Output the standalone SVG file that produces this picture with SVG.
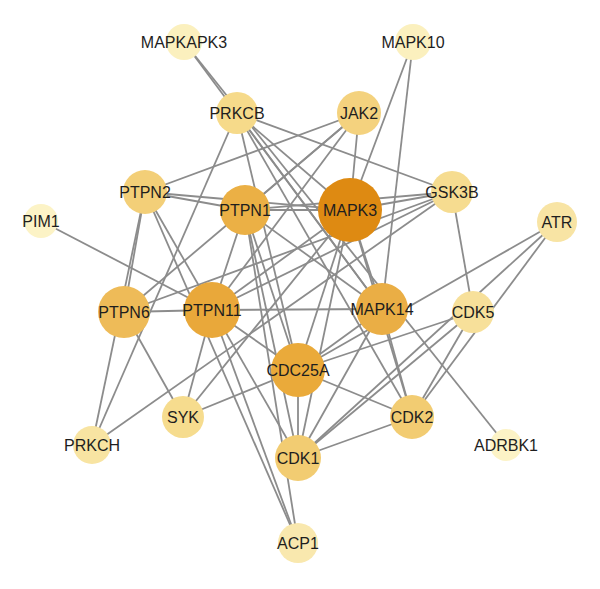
<svg xmlns="http://www.w3.org/2000/svg" width="600" height="589" viewBox="0 0 600 589">
<style>
.e{stroke:#8c8c8c;stroke-width:1.8;fill:none}
.n text{font-family:"Liberation Sans",Arial,sans-serif;font-size:16px;fill:#1e1e1e;text-anchor:middle}
</style>
<rect width="600" height="589" fill="#ffffff"/>
<g id="edges" class="e">
<line x1="184" y1="42" x2="382" y2="309"/>
<line x1="184" y1="42" x2="506" y2="445"/>
<line x1="413" y1="42" x2="350" y2="210"/>
<line x1="413" y1="42" x2="382" y2="309"/>
<line x1="237" y1="113" x2="452" y2="192"/>
<line x1="237" y1="113" x2="350" y2="210"/>
<line x1="237" y1="113" x2="412" y2="417"/>
<line x1="237" y1="113" x2="92" y2="445"/>
<line x1="237" y1="113" x2="298" y2="370"/>
<line x1="237" y1="113" x2="382" y2="309"/>
<line x1="359" y1="113" x2="350" y2="210"/>
<line x1="359" y1="113" x2="145" y2="192"/>
<line x1="359" y1="113" x2="245" y2="210"/>
<line x1="359" y1="113" x2="212" y2="310"/>
<line x1="359" y1="113" x2="124" y2="312"/>
<line x1="145" y1="192" x2="245" y2="210"/>
<line x1="145" y1="192" x2="124" y2="312"/>
<line x1="145" y1="192" x2="298" y2="458"/>
<line x1="145" y1="192" x2="298" y2="543"/>
<line x1="145" y1="192" x2="92" y2="445"/>
<line x1="145" y1="192" x2="350" y2="210"/>
<line x1="245" y1="210" x2="350" y2="210"/>
<line x1="245" y1="210" x2="452" y2="192"/>
<line x1="245" y1="210" x2="382" y2="309"/>
<line x1="245" y1="210" x2="298" y2="370"/>
<line x1="245" y1="210" x2="298" y2="458"/>
<line x1="245" y1="210" x2="298" y2="543"/>
<line x1="245" y1="210" x2="212" y2="310"/>
<line x1="350" y1="210" x2="452" y2="192"/>
<line x1="350" y1="210" x2="382" y2="309"/>
<line x1="350" y1="210" x2="212" y2="310"/>
<line x1="350" y1="210" x2="298" y2="370"/>
<line x1="350" y1="210" x2="298" y2="458"/>
<line x1="350" y1="210" x2="183" y2="417"/>
<line x1="350" y1="210" x2="412" y2="417"/>
<line x1="452" y1="192" x2="473" y2="312"/>
<line x1="452" y1="192" x2="212" y2="310"/>
<line x1="452" y1="192" x2="124" y2="312"/>
<line x1="452" y1="192" x2="92" y2="445"/>
<line x1="41" y1="221" x2="212" y2="310"/>
<line x1="557" y1="222" x2="298" y2="370"/>
<line x1="557" y1="222" x2="412" y2="417"/>
<line x1="557" y1="222" x2="298" y2="458"/>
<line x1="473" y1="312" x2="298" y2="370"/>
<line x1="473" y1="312" x2="298" y2="458"/>
<line x1="473" y1="312" x2="412" y2="417"/>
<line x1="382" y1="309" x2="298" y2="370"/>
<line x1="382" y1="309" x2="412" y2="417"/>
<line x1="382" y1="309" x2="212" y2="310"/>
<line x1="382" y1="309" x2="298" y2="458"/>
<line x1="298" y1="370" x2="412" y2="417"/>
<line x1="298" y1="370" x2="298" y2="458"/>
<line x1="298" y1="458" x2="412" y2="417"/>
<line x1="212" y1="310" x2="124" y2="312"/>
<line x1="212" y1="310" x2="298" y2="370"/>
<line x1="212" y1="310" x2="298" y2="543"/>
<line x1="212" y1="310" x2="183" y2="417"/>
<line x1="124" y1="312" x2="183" y2="417"/>
<line x1="298" y1="370" x2="183" y2="417"/>
</g>
<g id="MAPKAPK3" class="n"><circle cx="184" cy="42" r="18" fill="#fbf0be"/><text x="184" y="48">MAPKAPK3</text></g>
<g id="MAPK10" class="n"><circle cx="413" cy="42" r="18" fill="#fbf0be"/><text x="413" y="48">MAPK10</text></g>
<g id="PRKCB" class="n"><circle cx="237" cy="113" r="21" fill="#f6da8a"/><text x="237" y="119">PRKCB</text></g>
<g id="JAK2" class="n"><circle cx="359" cy="113" r="22" fill="#f4d27e"/><text x="359" y="119">JAK2</text></g>
<g id="PTPN2" class="n"><circle cx="145" cy="192" r="22" fill="#f3cf78"/><text x="145" y="198">PTPN2</text></g>
<g id="PTPN1" class="n"><circle cx="245" cy="210" r="25" fill="#ebb045"/><text x="245" y="216">PTPN1</text></g>
<g id="MAPK3" class="n"><circle cx="350" cy="210" r="32" fill="#de8a12"/><text x="350" y="216">MAPK3</text></g>
<g id="GSK3B" class="n"><circle cx="452" cy="192" r="21" fill="#f6dc90"/><text x="452" y="198">GSK3B</text></g>
<g id="PIM1" class="n"><circle cx="41" cy="221" r="17" fill="#fcf3c6"/><text x="41" y="227">PIM1</text></g>
<g id="ATR" class="n"><circle cx="557" cy="222" r="20" fill="#f8e4a4"/><text x="557" y="228">ATR</text></g>
<g id="PTPN6" class="n"><circle cx="124" cy="312" r="26" fill="#eebb58"/><text x="124" y="318">PTPN6</text></g>
<g id="PTPN11" class="n"><circle cx="212" cy="310" r="28" fill="#e9a83a"/><text x="212" y="316">PTPN11</text></g>
<g id="MAPK14" class="n"><circle cx="382" cy="309" r="26" fill="#eaae45"/><text x="382" y="315">MAPK14</text></g>
<g id="CDK5" class="n"><circle cx="473" cy="312" r="21" fill="#f7e09a"/><text x="473" y="318">CDK5</text></g>
<g id="CDC25A" class="n"><circle cx="298" cy="370" r="27" fill="#eaaa3a"/><text x="298" y="376">CDC25A</text></g>
<g id="SYK" class="n"><circle cx="183" cy="417" r="21" fill="#f6dc8e"/><text x="183" y="423">SYK</text></g>
<g id="CDK2" class="n"><circle cx="412" cy="417" r="22" fill="#f2cc72"/><text x="412" y="423">CDK2</text></g>
<g id="PRKCH" class="n"><circle cx="92" cy="445" r="19" fill="#f8e4a2"/><text x="92" y="451">PRKCH</text></g>
<g id="ADRBK1" class="n"><circle cx="506" cy="445" r="16" fill="#fcf3c6"/><text x="506" y="451">ADRBK1</text></g>
<g id="CDK1" class="n"><circle cx="298" cy="458" r="23" fill="#f2cc72"/><text x="298" y="464">CDK1</text></g>
<g id="ACP1" class="n"><circle cx="298" cy="543" r="20" fill="#f9e8ae"/><text x="298" y="549">ACP1</text></g>
</svg>
